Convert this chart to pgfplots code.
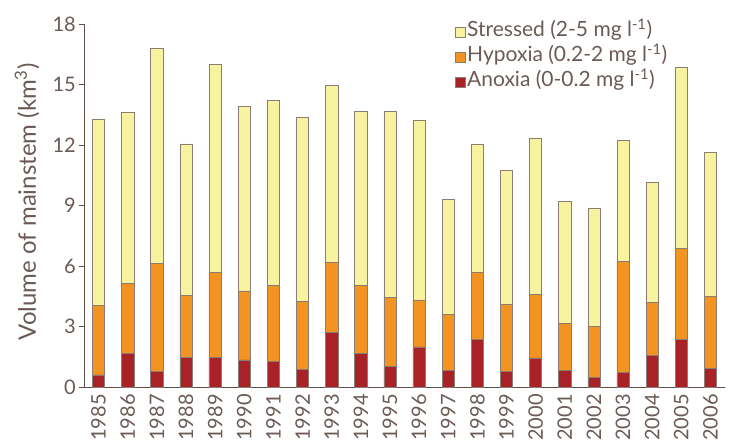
\documentclass[border=0pt]{standalone}
\usepackage{pgfplots}
\pgfplotsset{compat=1.18}
\usepackage{pgfplotstable}
\usepackage{fontspec}
\setmainfont{Lato}
\definecolor{txt}{HTML}{6B5A55}
\definecolor{axc}{HTML}{5E4F4A}
\definecolor{stressed}{HTML}{F7F39E}
\definecolor{hypoxia}{HTML}{F39322}
\definecolor{anoxia}{HTML}{A82228}
\definecolor{edge}{HTML}{8A7D76}
\pgfplotstableread{
x year anoxia hypoxia stressed
0 1985 0.60 3.44 9.25
1 1986 1.65 3.50 8.47
2 1987 0.78 5.34 10.66
3 1988 1.46 3.07 7.52
4 1989 1.46 4.21 10.31
5 1990 1.34 3.43 9.13
6 1991 1.27 3.78 9.15
7 1992 0.88 3.37 9.15
8 1993 2.70 3.47 8.79
9 1994 1.65 3.40 8.62
10 1995 1.04 3.39 9.24
11 1996 1.99 2.33 8.90
12 1997 0.83 2.76 5.74
13 1998 2.35 3.32 6.36
14 1999 0.78 3.32 6.64
15 2000 1.44 3.16 7.73
16 2001 0.83 2.31 6.08
17 2002 0.46 2.55 5.87
18 2003 0.73 5.51 6.02
19 2004 1.56 2.64 5.93
20 2005 2.35 4.52 8.98
21 2006 0.94 3.56 7.13
}\datatable
\begin{document}
\begin{tikzpicture}
\begin{axis}[
  at={(0,0)}, anchor=south west,
  scale only axis, width=641bp, height=363bp,
  xmin=-0.5, xmax=21.5, ymin=0, ymax=18,
  ybar stacked, bar width=0.42,
  axis lines*=left,
  axis line style={axc, line width=0.8pt},
  every tick/.style={axc, line width=0.8pt},
  tick align=outside,
  ytick={0,3,...,18},
  major tick length=5bp,
  xtick={0,...,21},
  xticklabels from table={\datatable}{year},
  x tick style={draw=none},
  minor xtick={-0.5,0.5,...,21.5},
  minor tick length=5bp,
  minor x tick style={axc, line width=0.8pt},
  xticklabel style={rotate=90, anchor=east, font=\fontsize{20bp}{20bp}\selectfont, text=txt, inner sep=2bp},
  yticklabel style={font=\fontsize{20bp}{20bp}\selectfont, text=txt, inner sep=3bp},
  /pgf/number format/assume math mode=true,
  ylabel={Volume of mainstem (km\textsuperscript{3})},
  ylabel style={font=\fontsize{24bp}{24bp}\selectfont, text=txt, at={(rel axis cs:0,0.51)}, anchor=center, yshift=57bp},
  legend style={draw=none, fill=none, at={(rel axis cs:0.578,1.012)}, anchor=north west,
    font=\fontsize{21bp}{21bp}\selectfont, text=txt, row sep=1bp, inner sep=0pt,
    nodes={text height=15bp, text depth=5bp},
    /tikz/every even column/.append style={column sep=1bp}},
  legend cell align=left,
  legend image code/.code={\draw[#1, draw=edge, line width=0.5pt] (0bp,-5bp) rectangle (10bp,5bp);},
  reverse legend,
]
\addplot[fill=anoxia, draw=edge, line width=0.5pt] table[x=x, y=anoxia] {\datatable};
\addlegendentry{Anoxia (0-0.2 mg l\textsuperscript{-1})}
\addplot[fill=hypoxia, draw=edge, line width=0.5pt] table[x=x, y=hypoxia] {\datatable};
\addlegendentry{Hypoxia (0.2-2 mg l\textsuperscript{-1})}
\addplot[fill=stressed, draw=edge, line width=0.5pt] table[x=x, y=stressed] {\datatable};
\addlegendentry{Stressed (2-5 mg l\textsuperscript{-1})}
\end{axis}
\path[use as bounding box] (-84bp,-52bp) rectangle (654bp,387bp);
\end{tikzpicture}
\end{document}
